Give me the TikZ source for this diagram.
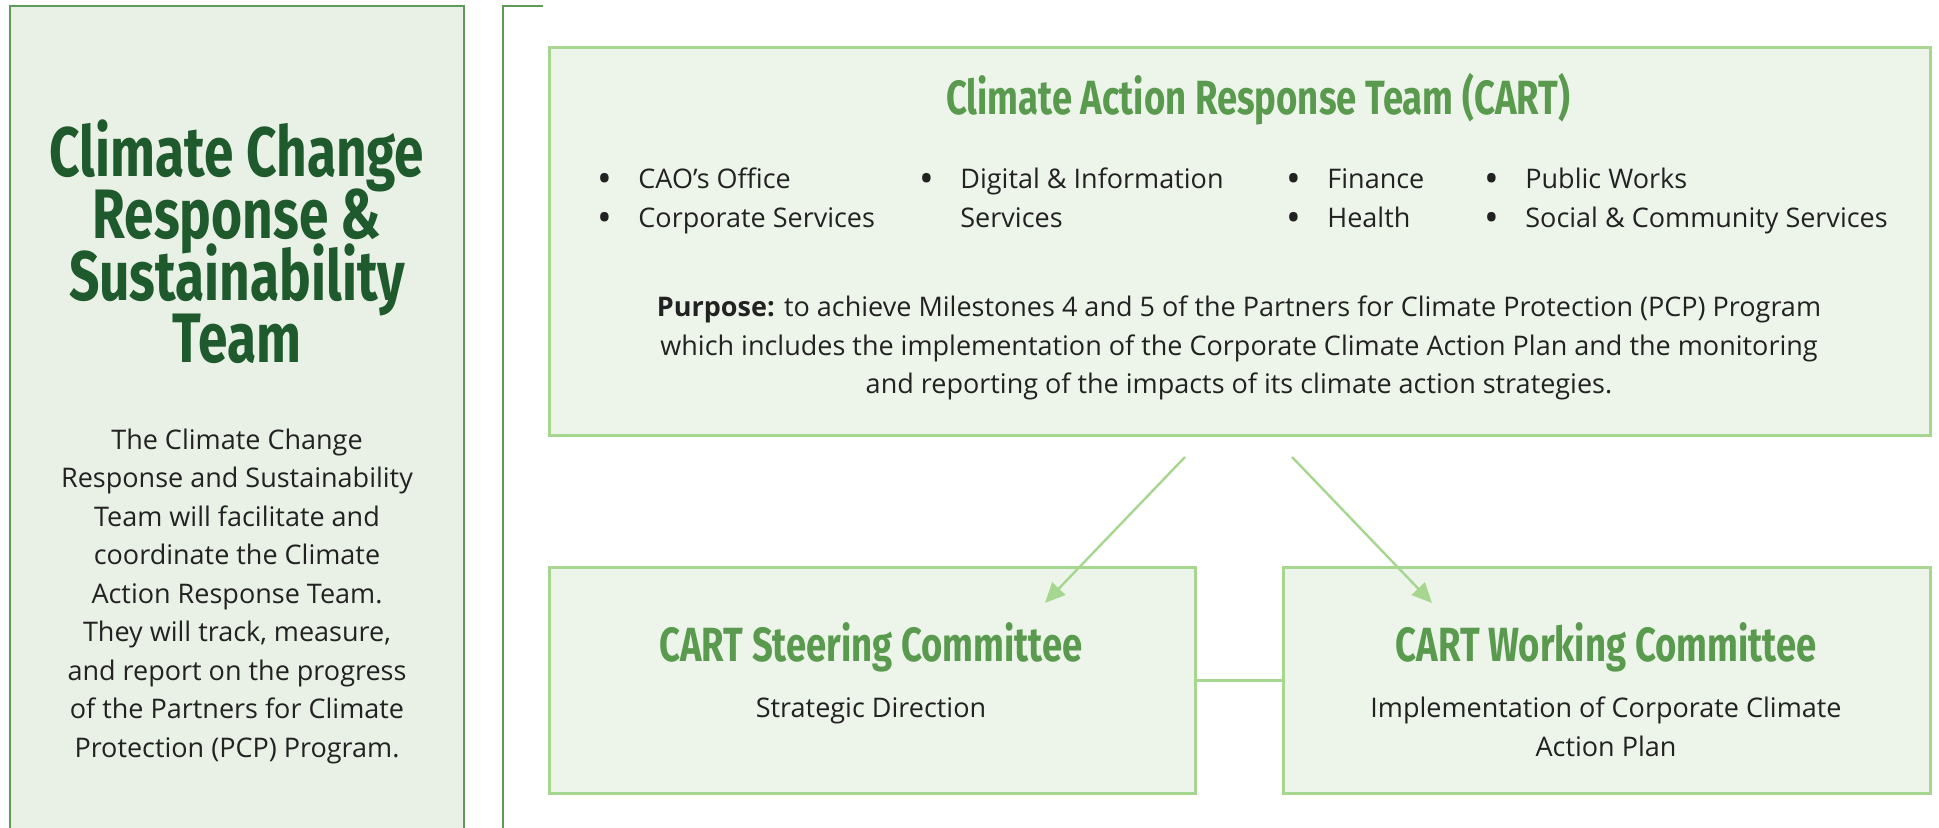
\documentclass[tikz,border=0pt]{standalone}
\usepackage{fontspec}
\setmainfont{Open Sans}
\newfontfamily\headfont[FakeStretch=0.76]{Fira Sans}
\usepackage{tikz}
\usetikzlibrary{arrows.meta,positioning}
\usepackage{xcolor}
\definecolor{panelfill}{HTML}{E9F1E6}
\definecolor{panelline}{HTML}{5E9A58}
\definecolor{titledark}{HTML}{1F5A2D}
\definecolor{cartfill}{HTML}{EDF5EA}
\definecolor{cartline}{HTML}{A6D68F}
\definecolor{cartgreen}{HTML}{5A9A4E}
\definecolor{bodygray}{HTML}{222222}
\newcommand{\tightlines}{\setlength{\lineskiplimit}{-20pt}}

\tikzset{
	cartbox/.style={draw=cartline,fill=cartfill,line width=1.5pt,inner sep=0pt,anchor=north west},
	bigtitle/.style={text=titledark,align=center,inner sep=0pt,font={\headfont\bfseries\fontsize{35}{31}\selectfont\tightlines}},
	carttitle/.style={text=cartgreen,inner sep=0pt,font=\headfont\bfseries\fontsize{24}{28}\selectfont},
	bodytext/.style={text=bodygray,align=center,inner sep=0pt,font=\fontsize{13.5}{19.25}\selectfont},
	item/.style={text=bodygray,inner sep=0pt,anchor=base west,font=\fontsize{13.5}{19.5}\selectfont},
}
\newcommand{\bul}{\makebox[20.5pt][l]{\raisebox{-0.12em}{\scalebox{1.45}{\textbullet}}}}

\begin{document}
\begin{tikzpicture}[x=0.5pt,y=-0.5pt]
	\useasboundingbox (0,0) rectangle (1939,828);
	% left panel
	\fill[panelfill] (10,6) rectangle (464,830);
	\draw[panelline,line width=1.3pt] (10,830) |- (464,6) -- (464,830);
	\node[bigtitle] (teamtitle) at (237,242) {Climate Change\\Response \&\\Sustainability\\Team};
	\node[bodytext] (teambody) at (237,596) {The Climate Change\\Response and Sustainability\\Team will facilitate and\\coordinate the Climate\\Action Response Team.\\They will track, measure,\\and report on the progress\\of the Partners for Climate\\Protection (PCP) Program.};
	% bracket
	\draw[panelline,line width=1.3pt] (503,830) |- (543,6);
	% boxes
	\node[cartbox,minimum width=690.5pt,minimum height=194pt] (cart) at (548,46) {};
	\node[cartbox,minimum width=323pt,minimum height=113pt] (steer) at (548,566) {};
	\node[cartbox,minimum width=323.5pt,minimum height=113pt] (work) at (1282,566) {};
	% CART text
	\node[carttitle] (carthead) at (1258,99) {Climate Action Response Team (CART)};
	\foreach \px/\py/\txt [count=\i] in {597/189/CAO's Office,597/228/Corporate Services,919/189/Digital \& Information,1286/189/Finance,1286/228/Health,1484/189/Public Works,1484/228/Social \& Community Services}
		\node[item] (dept\i) at (\px,\py) {\bul\txt};
	\node[item] (deptcont) at (919,228) {\hspace*{20.5pt}Services};
	\node[bodytext] (purpose) at (1239,348) {\textbf{Purpose:} to achieve Milestones 4 and 5 of the Partners for Climate Protection (PCP) Program\\which includes the implementation of the Corporate Climate Action Plan and the monitoring\\and reporting of the impacts of its climate action strategies.};
	% committees
	\node[carttitle] (steerhead) at (871,647) {CART Steering Committee};
	\node[bodytext] (steersub) at (871,711) {Strategic Direction};
	\node[carttitle] (workhead) at (1606,647) {CART Working Committee};
	\node[bodytext] (worksub) at (1606,727) {Implementation of Corporate Climate\\Action Plan};
	% connectors
	\draw[cartline,line width=1.5pt] (steer.east) -- (work.west);
	\coordinate (lfrom) at (1185,457);
	\coordinate (lto) at (1045,603);
	\coordinate (rfrom) at (1292,457);
	\coordinate (rto) at (1432,603);
	\draw[cartline,line width=1.2pt,-{Triangle[length=10pt,width=9pt]}] (lfrom) -- (lto);
	\draw[cartline,line width=1.2pt,-{Triangle[length=10pt,width=9pt]}] (rfrom) -- (rto);
\end{tikzpicture}
\end{document}
